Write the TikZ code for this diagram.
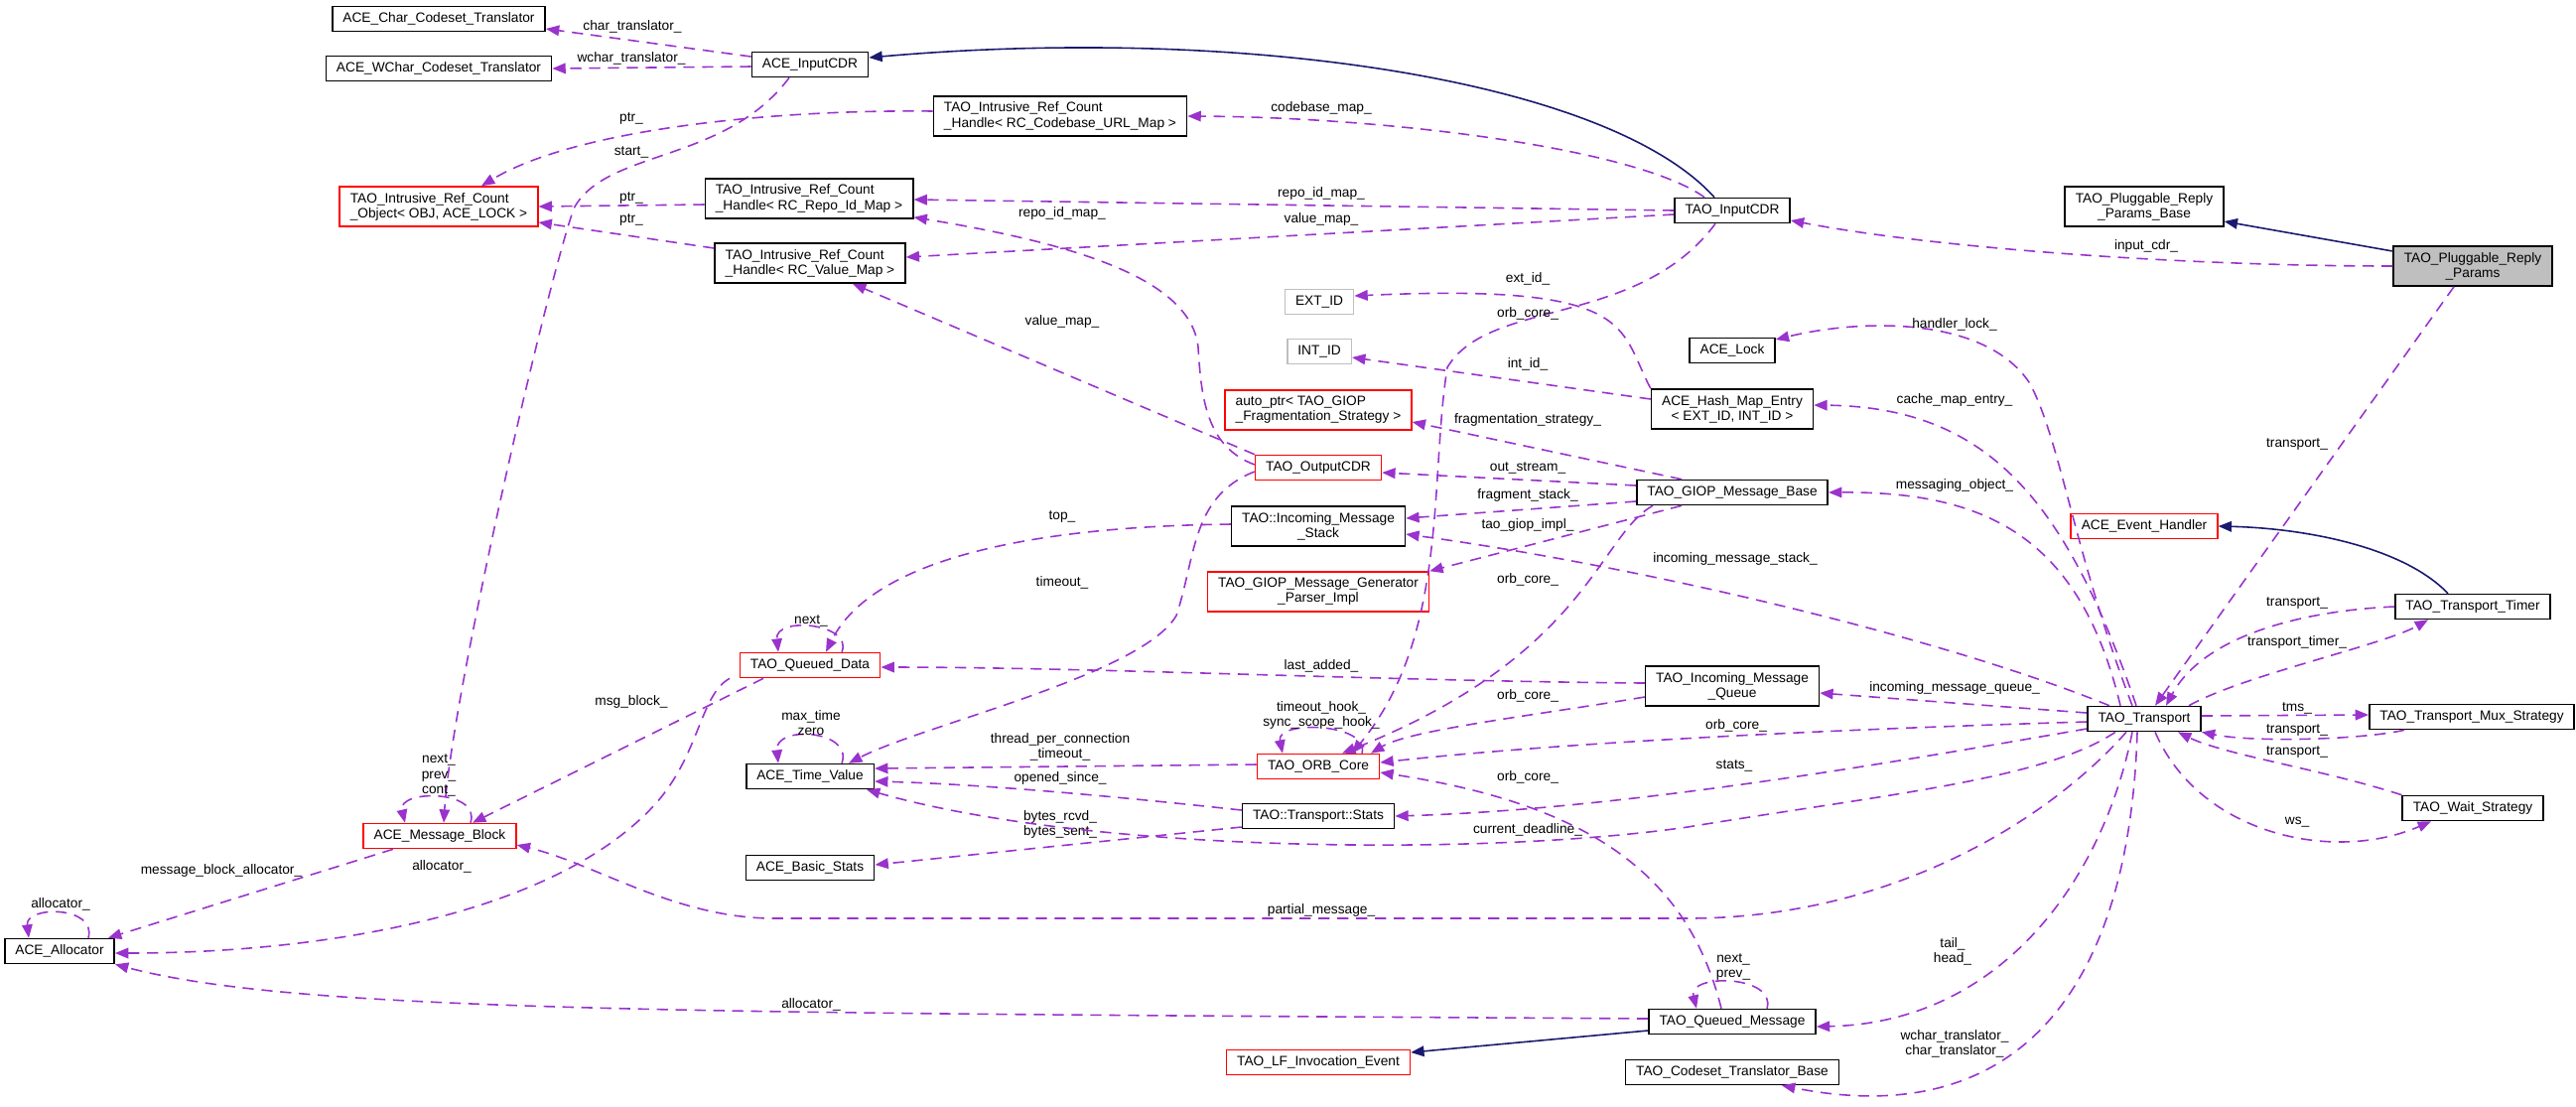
\documentclass[tikz,border=0pt]{standalone}
\usepackage{fontspec}
\setmainfont{Liberation Sans}
\usetikzlibrary{arrows.meta,calc}
\definecolor{refcol}{HTML}{9A32CD}
\definecolor{inhcol}{HTML}{191970}
\definecolor{mainfill}{HTML}{BFBFBF}
\tikzset{
  cls/.style={draw=black, line width=0.45pt, fill=white, font=\fontsize{3.9}{4.3}\selectfont,
    inner xsep=3pt, inner ysep=1pt, minimum height=0.25cm, align=center},
  two/.style={minimum height=0.4cm},
  trunc/.style={cls, draw=red},
  ext/.style={cls, draw=mainfill},
  mainc/.style={cls, fill=mainfill},
  ref/.style={draw=refcol, line width=0.45pt, dash pattern=on 3.2pt off 2.2pt,
    -{Triangle[length=3.8pt,width=3pt]}},
  inh/.style={draw=inhcol, line width=0.45pt, -{Triangle[length=3.8pt,width=3pt]}},
  lbl/.style={font=\fontsize{3.9}{4.3}\selectfont, align=center, inner sep=0pt},
}
\begin{document}
\begin{tikzpicture}[x=0.01cm, y=-0.01cm]
  \useasboundingbox[fill=white] (0,0) rectangle (2595,1114);

  % classes
  \node[cls] (cct) at (442,19) {ACE\_Char\_Codeset\_Translator};
  \node[cls] (wct) at (442,69) {ACE\_WChar\_Codeset\_Translator};
  \node[cls] (aicdr) at (816,65) {ACE\_InputCDR};
  \node[trunc, two, align=left] (rcobj) at (442,208) {TAO\_Intrusive\_Ref\_Count\\\_Object< OBJ, ACE\_LOCK >};
  \node[cls, two, align=left] (hcode) at (1068,117) {TAO\_Intrusive\_Ref\_Count\\\_Handle< RC\_Codebase\_URL\_Map >};
  \node[cls, two, align=left] (hrepo) at (815,200) {TAO\_Intrusive\_Ref\_Count\\\_Handle< RC\_Repo\_Id\_Map >};
  \node[cls, two, align=left] (hval) at (816,265) {TAO\_Intrusive\_Ref\_Count\\\_Handle< RC\_Value\_Map >};
  \node[cls] (ticdr) at (1745,212) {TAO\_InputCDR};
  \node[cls, two] (prbase) at (2160,208) {TAO\_Pluggable\_Reply\\\_Params\_Base};
  \node[mainc, two] (prp) at (2491,268) {TAO\_Pluggable\_Reply\\\_Params};
  \node[ext] (extid) at (1329,304) {EXT\_ID};
  \node[ext] (intid) at (1329,354) {INT\_ID};
  \node[cls] (lock) at (1745,353) {ACE\_Lock};
  \node[cls, two] (hme) at (1745,412) {ACE\_Hash\_Map\_Entry\\< EXT\_ID, INT\_ID >};
  \node[trunc, two, align=left] (autoptr) at (1328,413) {auto\_ptr< TAO\_GIOP\\\_Fragmentation\_Strategy >};
  \node[trunc] (ocdr) at (1328,471) {TAO\_OutputCDR};
  \node[cls] (giop) at (1745,496) {TAO\_GIOP\_Message\_Base};
  \node[cls, two] (ims) at (1328,530) {TAO::Incoming\_Message\\\_Stack};
  \node[trunc] (evh) at (2160,530) {ACE\_Event\_Handler};
  \node[trunc, two] (gpi) at (1328,596) {TAO\_GIOP\_Message\_Generator\\\_Parser\_Impl};
  \node[cls] (timer) at (2491,611) {TAO\_Transport\_Timer};
  \node[trunc] (qd) at (816,670) {TAO\_Queued\_Data};
  \node[cls, two] (imq) at (1745,691) {TAO\_Incoming\_Message\\\_Queue};
  \node[cls] (tr) at (2160,724) {TAO\_Transport};
  \node[cls] (mux) at (2490,722) {TAO\_Transport\_Mux\_Strategy};
  \node[trunc] (orb) at (1328,772) {TAO\_ORB\_Core};
  \node[cls] (tv) at (816,782) {ACE\_Time\_Value};
  \node[cls] (stats) at (1328,822) {TAO::Transport::Stats};
  \node[cls] (ws) at (2491,814) {TAO\_Wait\_Strategy};
  \node[trunc] (mb) at (443,842) {ACE\_Message\_Block};
  \node[cls] (bs) at (816,874) {ACE\_Basic\_Stats};
  \node[cls] (alloc) at (60,958) {ACE\_Allocator};
  \node[cls] (qm) at (1745,1029) {TAO\_Queued\_Message};
  \node[trunc] (lf) at (1328,1070) {TAO\_LF\_Invocation\_Event};
  \node[cls] (ctb) at (1745,1080) {TAO\_Codeset\_Translator\_Base};

  % inheritance
  \draw[inh] ($(ticdr.north)+(-18,0)$) .. controls (1620,80) and (1250,25) .. ($(aicdr.east)+(0,-7)$);
  \draw[inh] ($(prp.west)+(0,-15)$) -- ($(prbase.east)+(0,15)$);
  \draw[inh] ($(timer.north)+(-25,0)$) .. controls (2420,550) and (2320,532) .. (evh.east);
  \draw[inh] ($(qm.west)+(0,9)$) -- ($(lf.east)+(0,-10)$);

  % members
  \draw[ref] ($(aicdr.west)+(0,-8)$) -- ($(cct.east)+(0,10)$) node[lbl, at={(637,27)}] {char\_translator\_};
  \draw[ref] ($(aicdr.west)+(0,2)$) -- (wct.east) node[lbl, at={(636,59)}] {wchar\_translator\_};
  \draw[ref] ($(hcode.west)+(0,-5)$) .. controls (780,110) and (580,130) .. ($(rcobj.north)+(43,0)$) node[lbl, at={(636,119)}] {ptr\_};
  \draw[ref] ($(aicdr.south)+(-21,0)$) .. controls (730,165) and (610,150) .. (578,210) .. controls (550,290) and (455,700) .. ($(mb.north)+(4,0)$) node[lbl, at={(636,153)}] {start\_};
  \draw[ref] ($(hrepo.west)+(0,6)$) -- (rcobj.east) node[lbl, at={(636,199)}] {ptr\_};
  \draw[ref] ($(hval.west)+(0,-15)$) -- ($(rcobj.east)+(0,16)$) node[lbl, at={(636,221)}] {ptr\_};
  \draw[ref] ($(ticdr.north)+(-28,0)$) .. controls (1650,150) and (1400,118) .. (hcode.east) node[lbl, at={(1331,109)}] {codebase\_map\_};
  \draw[ref] (ticdr.west) -- ($(hrepo.east)+(0,1)$) node[lbl, at={(1331,195)}] {repo\_id\_map\_};
  \draw[ref] ($(ticdr.west)+(0,4)$) -- ($(hval.east)+(0,-6)$) node[lbl, at={(1331,221)}] {value\_map\_};
  \draw[ref] ($(ocdr.west)+(0,-3)$) .. controls (1215,450) and (1210,400) .. (1207,350) .. controls (1200,280) and (1080,245) .. ($(hrepo.south east)+(0,-2)$) node[lbl, at={(1070,215)}] {repo\_id\_map\_};
  \draw[ref] (ocdr.north west) -- ($(hval.south)+(43,0)$) node[lbl, at={(1070,324)}] {value\_map\_};
  \draw[ref] (prp.west) .. controls (2200,268) and (1950,250) .. ($(ticdr.east)+(0,10)$) node[lbl, at={(2162,248)}] {input\_cdr\_};
  \draw[ref] ($(prp.south)+(-19,0)$) -- ($(tr.north)+(11,0)$) node[lbl, at={(2314,447)}] {transport\_};
  \draw[ref] (hme.north west) .. controls (1630,330) and (1650,285) .. ($(extid.east)+(0,-6)$) node[lbl, at={(1539,281)}] {ext\_id\_};
  \draw[ref] ($(hme.west)+(0,-10)$) -- ($(intid.east)+(0,6)$) node[lbl, at={(1539,367)}] {int\_id\_};
  \draw[ref] ($(ticdr.south)+(-17,0)$) .. controls (1650,330) and (1500,300) .. (1458,370) .. controls (1440,480) and (1460,640) .. ($(orb.north)+(34,0)$) node[lbl, at={(1539,316)}] {orb\_core\_};
  \draw[ref] ($(tr.north)+(-12,0)$) .. controls (2090,560) and (2075,440) .. (2044,385) .. controls (2000,320) and (1880,320) .. ($(lock.east)+(0,-11)$) node[lbl, at={(1969,327)}] {handler\_lock\_};
  \draw[ref] ($(tr.north)+(-8,0)$) .. controls (2080,500) and (2000,410) .. ($(hme.east)+(0,-4)$) node[lbl, at={(1969,403)}] {cache\_map\_entry\_};
  \draw[ref] ($(giop.north)+(-51,0)$) -- ($(autoptr.east)+(0,12)$) node[lbl, at={(1539,423)}] {fragmentation\_strategy\_};
  \draw[ref] ($(giop.west)+(0,-7)$) -- ($(ocdr.east)+(0,5)$) node[lbl, at={(1539,471)}] {out\_stream\_};
  \draw[ref] ($(giop.west)+(0,9)$) -- ($(ims.east)+(0,-8)$) node[lbl, at={(1539,499)}] {fragment\_stack\_};
  \draw[ref] ($(giop.south)+(-51,0)$) -- (gpi.north east) node[lbl, at={(1539,529)}] {tao\_giop\_impl\_};
  \draw[ref] ($(giop.south)+(-80,0)$) .. controls (1610,540) and (1600,660) .. ($(orb.north)+(24,0)$) node[lbl, at={(1539,584)}] {orb\_core\_};
  \draw[ref] ($(tr.north)+(-24,0)$) .. controls (2095,540) and (2000,495) .. (giop.east) node[lbl, at={(1969,489)}] {messaging\_object\_};
  \draw[ref] ($(tr.north)+(-35,0)$) .. controls (1950,640) and (1650,570) .. ($(ims.east)+(0,8)$) node[lbl, at={(1748,563)}] {incoming\_message\_stack\_};
  \draw[ref] ($(ims.west)+(0,-2)$) .. controls (1050,530) and (880,560) .. ($(qd.north)+(16,0)$) node[lbl, at={(1070,520)}] {top\_};
  \draw[ref] ($(ocdr.west)+(0,4)$) .. controls (1200,500) and (1205,560) .. (1185,620) .. controls (1150,680) and (930,730) .. ($(tv.north)+(39,0)$) node[lbl, at={(1070,587)}] {timeout\_};
  \draw[ref] ($(qd.north)+(32,0)$) .. controls (860,628) and (780,620) .. ($(qd.north)+(-32,0)$) node[lbl, at={(817,625)}] {next\_};
  \draw[ref] ($(qd.south)+(-47,0)$) -- ($(mb.north)+(33,0)$) node[lbl, at={(636,707)}] {msg\_block\_};
  \draw[ref] ($(qd.south)+(-81,0)$) .. controls (705,700) and (705,760) .. (660,810) .. controls (560,920) and (330,960) .. ($(alloc.east)+(0,2)$) node[lbl, at={(445,873)}] {allocator\_};
  \draw[ref] ($(tv.north)+(32,0)$) .. controls (860,735) and (780,730) .. ($(tv.north)+(-32,0)$) node[lbl, at={(817,728)}] {max\_time\\zero};
  \draw[ref] ($(imq.west)+(0,-3)$) .. controls (1400,686) and (1100,672) .. ($(qd.east)+(0,2)$) node[lbl, at={(1331,671)}] {last\_added\_};
  \draw[ref] ($(imq.west)+(0,11)$) .. controls (1550,720) and (1420,735) .. ($(orb.north)+(53,0)$) node[lbl, at={(1539,701)}] {orb\_core\_};
  \draw[ref] ($(orb.north)+(44,0)$) .. controls (1380,728) and (1285,725) .. ($(orb.north)+(-36,0)$) node[lbl, at={(1331,720)}] {timeout\_hook\_\\sync\_scope\_hook\_};
  \draw[ref] ($(orb.west)+(0,-2)$) -- ($(tv.east)+(0,-8)$) node[lbl, at={(1068,752)}] {thread\_per\_connection\\\_timeout\_};
  \draw[ref] ($(stats.west)+(0,-6)$) .. controls (1150,805) and (1000,790) .. ($(tv.east)+(0,5)$) node[lbl, at={(1068,784)}] {opened\_since\_};
  \draw[ref] ($(stats.west)+(0,11)$) -- ($(bs.east)+(0,-3)$) node[lbl, at={(1068,830)}] {bytes\_rcvd\_\\bytes\_sent\_};
  \draw[ref] ($(tr.south)+(-29,0)$) .. controls (2060,785) and (1900,800) .. (1700,833) .. controls (1500,862) and (1100,860) .. ($(tv.south)+(57,0)$) node[lbl, at={(1539,836)}] {current\_deadline\_};
  \draw[ref] ($(tr.west)+(0,10)$) .. controls (1950,760) and (1650,815) .. (stats.east) node[lbl, at={(1747,771)}] {stats\_};
  \draw[ref] ($(tr.west)+(0,3)$) .. controls (1900,733) and (1600,745) .. ($(orb.east)+(0,-4)$) node[lbl, at={(1749,731)}] {orb\_core\_};
  \draw[ref] ($(tr.west)+(0,-6)$) -- ($(imq.east)+(0,7)$) node[lbl, at={(1969,693)}] {incoming\_message\_queue\_};
  \draw[ref] ($(mb.north)+(31,0)$) .. controls (485,795) and (400,795) .. ($(mb.north)+(-35,0)$) node[lbl, at={(442,781)}] {next\_\\prev\_\\cont\_};
  \draw[ref] ($(mb.south)+(-47,0)$) -- ($(alloc.north)+(49,0)$) node[lbl, at={(223,877)}] {message\_block\_allocator\_};
  \draw[ref] ($(alloc.north)+(29,0)$) .. controls (98,912) and (25,912) .. ($(alloc.north)+(-31,0)$) node[lbl, at={(61,911)}] {allocator\_};
  \draw[ref] ($(qm.west)+(0,-3)$) .. controls (700,1020) and (300,1020) .. (alloc.south east) node[lbl, at={(817,1012)}] {allocator\_};
  \draw[ref] ($(tr.south)+(-18,0)$) .. controls (2060,830) and (1900,925) .. (1700,925) -- (780,925) .. controls (680,925) and (600,870) .. ($(mb.east)+(0,9)$) node[lbl, at={(1331,917)}] {partial\_message\_};
  \draw[ref] ($(qm.north)+(35,0)$) .. controls (1790,982) and (1700,980) .. ($(qm.north)+(-36,0)$) node[lbl, at={(1746,974)}] {next\_\\prev\_};
  \draw[ref] ($(qm.north)+(-11,0)$) .. controls (1700,880) and (1600,810) .. ($(orb.east)+(0,6)$) node[lbl, at={(1539,783)}] {orb\_core\_};
  \draw[ref] ($(tr.south)+(-12,0)$) .. controls (2120,880) and (2020,1030) .. ($(qm.east)+(0,5)$) node[lbl, at={(1967,958)}] {tail\_\\head\_};
  \draw[ref] ($(tr.south)+(-7,0)$) .. controls (2145,1000) and (2030,1140) .. ($(ctb.south)+(50,0)$) node[lbl, at={(1969,1051)}] {wchar\_translator\_\\char\_translator\_};
  \draw[ref] (timer.west) .. controls (2320,615) and (2220,640) .. ($(tr.north)+(22,0)$) node[lbl, at={(2314,607)}] {transport\_};
  \draw[ref] ($(tr.north)+(45,0)$) .. controls (2260,680) and (2400,650) .. ($(timer.south)+(-45,0)$) node[lbl, at={(2314,647)}] {transport\_timer\_};
  \draw[ref] ($(tr.east)+(0,-3)$) -- ($(mux.west)+(0,-2)$) node[lbl, at={(2314,713)}] {tms\_};
  \draw[ref] ($(mux.south)+(-68,0)$) .. controls (2380,745) and (2270,748) .. (tr.south east) node[lbl, at={(2314,735)}] {transport\_};
  \draw[ref] (ws.north west) .. controls (2340,775) and (2240,760) .. ($(tr.south)+(34,0)$) node[lbl, at={(2314,757)}] {transport\_};
  \draw[ref] ($(tr.south)+(11,0)$) .. controls (2215,840) and (2350,870) .. ($(ws.south)+(-42,0)$) node[lbl, at={(2314,828)}] {ws\_};
\end{tikzpicture}
\end{document}
